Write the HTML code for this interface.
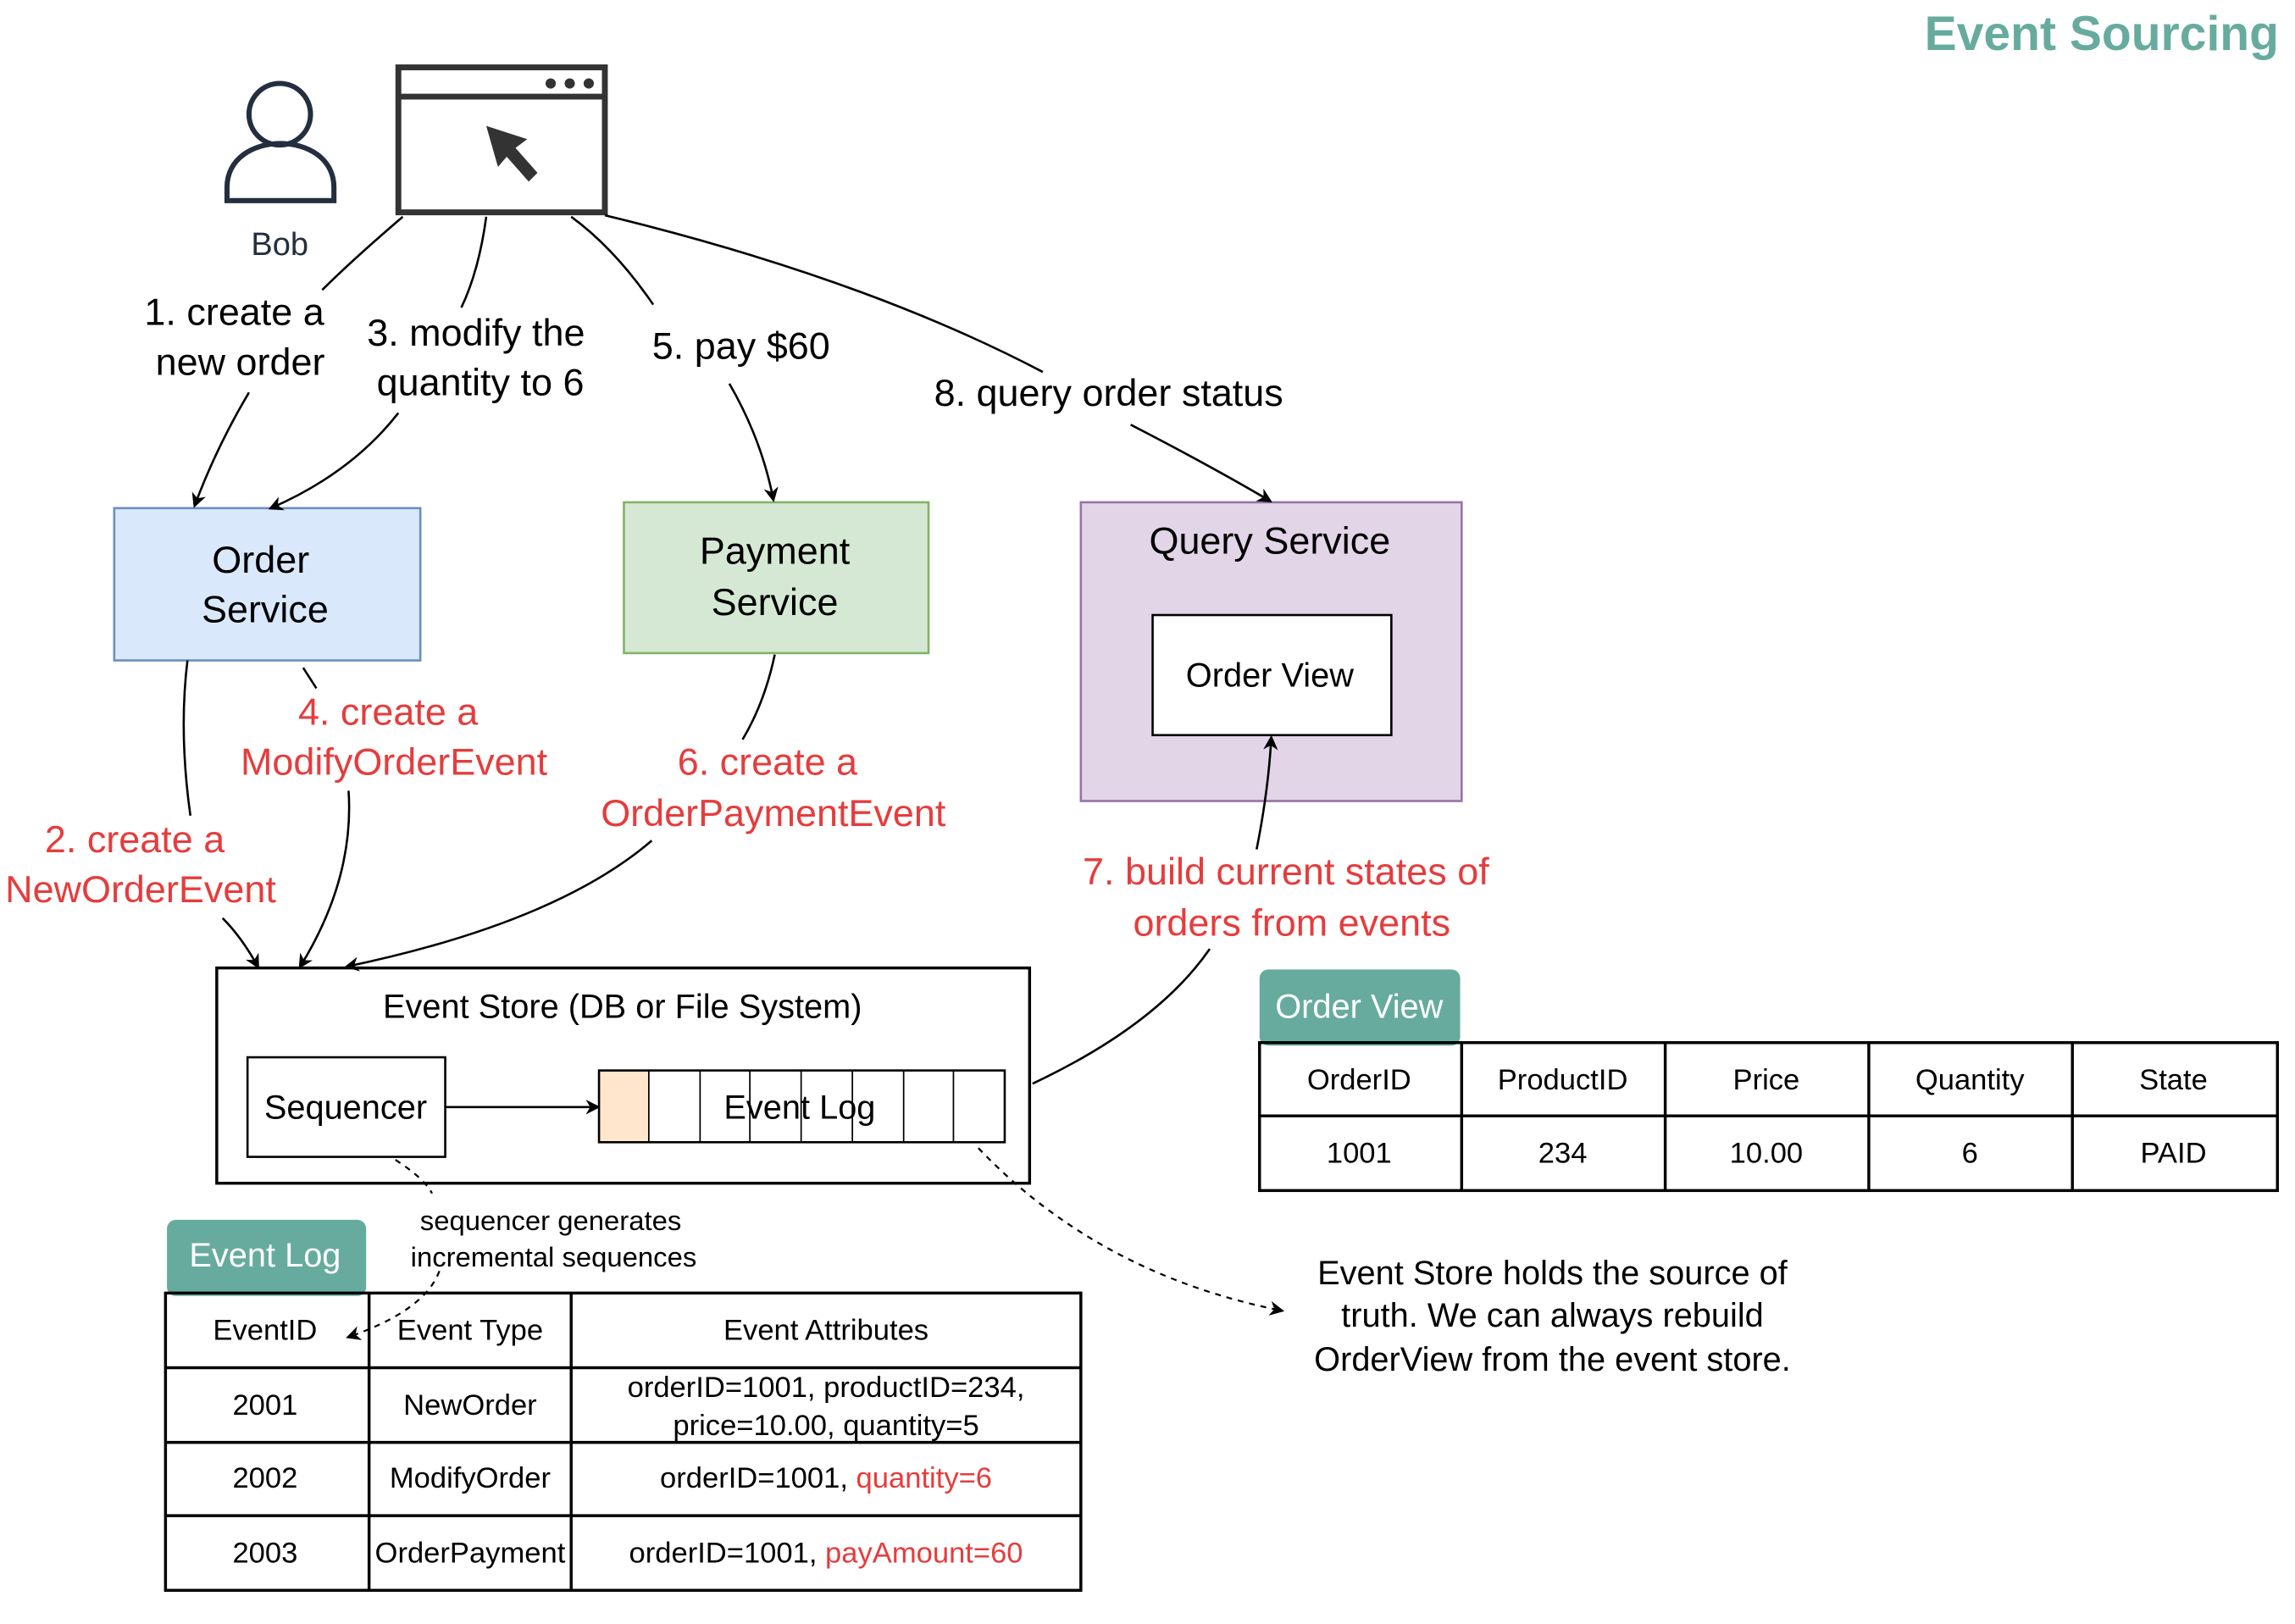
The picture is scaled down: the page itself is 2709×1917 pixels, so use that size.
<!DOCTYPE html>
<html><head><meta charset="utf-8"><style>html,body{margin:0;padding:0;background:#fff;}svg{display:block;}text{font-family:"Liberation Sans",Arial,sans-serif;}</style></head>
<body>
<svg width="2709" height="1917" viewBox="0 0 1567 1109" preserveAspectRatio="none" xmlns="http://www.w3.org/2000/svg">
<defs>
<marker id="ar" markerWidth="10" markerHeight="10" refX="8" refY="5" orient="auto" markerUnits="userSpaceOnUse"><path d="M0,0 L10,5 L0,10 L3,5 z" fill="#000"/></marker>
</defs>
<rect width="1567" height="1109" fill="#fff"/>
<text x="1556" y="34" text-anchor="end" font-size="33" font-weight="bold" fill="#67AB9F">Event Sourcing</text>
<!-- Bob -->
<circle cx="191" cy="78" r="21" fill="none" stroke="#232F3E" stroke-width="3.5"/>
<path d="M155,137 L155,128 C155,88 228,88 228,128 L228,137 Z" fill="none" stroke="#232F3E" stroke-width="3.5"/>
<text x="191" y="174" text-anchor="middle" font-size="22" fill="#232F3E">Bob</text>
<!-- browser -->
<rect x="272" y="46" width="141" height="99" fill="#fff" stroke="#333" stroke-width="4"/>
<line x1="272" y1="66" x2="413" y2="66" stroke="#333" stroke-width="4"/>
<circle cx="376" cy="57" r="3.5" fill="#333"/><circle cx="389" cy="57" r="3.5" fill="#333"/><circle cx="402" cy="57" r="3.5" fill="#333"/>
<path d="M332,86 L360,95 L352,101 L367,118 L361,124 L346,107 L340,114 Z" fill="#333"/>
<!-- services -->
<rect x="78" y="347" width="209" height="104" fill="#dae8fc" stroke="#6c8ebf" stroke-width="1.5"/>
<text x="178" y="391" font-size="26" text-anchor="middle">Order</text><text x="181" y="425" font-size="26" text-anchor="middle">Service</text>
<rect x="426" y="343" width="208" height="103" fill="#d5e8d4" stroke="#82b366" stroke-width="1.5"/>
<text x="529" y="385" font-size="26" text-anchor="middle">Payment</text><text x="529" y="420" font-size="26" text-anchor="middle">Service</text>
<rect x="738" y="343" width="260" height="204" fill="#e1d5e7" stroke="#9673a6" stroke-width="1.5"/>
<text x="867" y="378" font-size="26" text-anchor="middle">Query Service</text>
<rect x="787" y="420" width="163" height="82" fill="#fff" stroke="#000" stroke-width="1.5"/>
<text x="867" y="469" font-size="23" text-anchor="middle">Order View</text>
<!-- edges -->
<g fill="none" stroke="#000" stroke-width="1.5">
<path d="M275,148 Q240,178 220,198"/>
<path d="M170,268 Q148,305 133,345" marker-end="url(#ar)"/>
<path d="M332,148 Q327,185 315,210"/>
<path d="M272,282 Q240,323 185,347" marker-end="url(#ar)"/>
<path d="M390,148 Q420,170 446,208"/>
<path d="M498,262 Q520,300 528,341" marker-end="url(#ar)"/>
<path d="M413,147 Q590,190 712,254"/>
<path d="M772,290 Q830,320 867,342" marker-end="url(#ar)"/>
<path d="M128,451 Q122,500 130,557"/>
<path d="M152,627 Q165,640 176,660" marker-end="url(#ar)"/>
<path d="M207,456 L216,470"/>
<path d="M238,540 Q242,600 205,660" marker-end="url(#ar)"/>
<path d="M529,447 Q522,480 507,505"/>
<path d="M445,574 Q380,630 237,660" marker-end="url(#ar)"/>
<path d="M705,740 Q790,700 826,648"/>
<path d="M858,580 Q866,540 868,504" marker-end="url(#ar)"/>
<path d="M304,756 L408,756" marker-end="url(#ar)"/>
</g>
<g fill="none" stroke="#000" stroke-width="1.3" stroke-dasharray="4,4">
<path d="M270,792 Q290,805 295,815"/>
<path d="M300,868 Q290,895 238,913" marker-end="url(#ar)"/>
<path d="M668,784 Q750,870 875,895" marker-end="url(#ar)"/>
</g>
<!-- edge labels -->
<g font-size="26" text-anchor="middle" fill="#000">
<text x="160" y="222">1. create a</text><text x="164" y="256">new order</text>
<text x="325" y="236">3. modify the</text><text x="328" y="270">quantity to 6</text>
<text x="506" y="245">5. pay $60</text>
<text x="757" y="277">8. query order status</text>
</g>
<g font-size="26" text-anchor="middle" fill="#E63C3C">
<text x="265" y="495">4. create a</text><text x="269" y="529">ModifyOrderEvent</text>
<text x="92" y="582">2. create a</text><text x="96" y="616">NewOrderEvent</text>
<text x="524" y="529">6. create a</text><text x="528" y="564">OrderPaymentEvent</text>
<text x="878" y="604">7. build current states of</text><text x="882" y="639">orders from events</text>
</g>
<!-- event store -->
<rect x="148" y="661" width="555" height="147" fill="none" stroke="#000" stroke-width="2"/>
<text x="425" y="695" font-size="23" text-anchor="middle">Event Store (DB or File System)</text>
<rect x="169" y="722" width="135" height="68" fill="#fff" stroke="#000" stroke-width="1.5"/>
<text x="236" y="764" font-size="23" text-anchor="middle">Sequencer</text>
<rect x="409" y="731" width="34" height="49" fill="#ffe6cc"/>
<rect x="409" y="731" width="277" height="49" fill="none" stroke="#000" stroke-width="1.5"/>
<g stroke="#000" stroke-width="1"><line x1="443" y1="731" x2="443" y2="780"/><line x1="478" y1="731" x2="478" y2="780"/><line x1="512" y1="731" x2="512" y2="780"/><line x1="547" y1="731" x2="547" y2="780"/><line x1="582" y1="731" x2="582" y2="780"/><line x1="617" y1="731" x2="617" y2="780"/><line x1="651" y1="731" x2="651" y2="780"/></g>
<text x="546" y="764" font-size="23" text-anchor="middle">Event Log</text>
<text x="376" y="840" font-size="19" text-anchor="middle">sequencer generates</text>
<text x="378" y="865" font-size="19" text-anchor="middle">incremental sequences</text>
<text x="1060" y="877" font-size="23" text-anchor="middle">Event Store holds the source of</text>
<text x="1060" y="906" font-size="23" text-anchor="middle">truth. We can always rebuild</text>
<text x="1060" y="936" font-size="23" text-anchor="middle">OrderView from the event store.</text>
<!-- order view table -->
<rect x="860" y="662" width="137" height="52" rx="6" fill="#67AB9F"/>
<text x="928" y="695" font-size="23" text-anchor="middle" fill="#fff">Order View</text>
<g fill="none" stroke="#000" stroke-width="2">
<rect x="860" y="712" width="695" height="101"/>
<line x1="860" y1="762" x2="1555" y2="762"/>
<line x1="998" y1="712" x2="998" y2="813"/><line x1="1137" y1="712" x2="1137" y2="813"/><line x1="1276" y1="712" x2="1276" y2="813"/><line x1="1415" y1="712" x2="1415" y2="813"/>
</g>
<g font-size="20" text-anchor="middle">
<text x="928" y="744">OrderID</text><text x="1067" y="744">ProductID</text><text x="1206" y="744">Price</text><text x="1345" y="744">Quantity</text><text x="1484" y="744">State</text>
<text x="928" y="794">1001</text><text x="1067" y="794">234</text><text x="1206" y="794">10.00</text><text x="1345" y="794">6</text><text x="1484" y="794">PAID</text>
</g>
<!-- event log table -->
<rect x="114" y="833" width="136" height="52" rx="6" fill="#67AB9F"/>
<text x="181" y="865" font-size="23" text-anchor="middle" fill="#fff">Event Log</text>
<g fill="none" stroke="#000" stroke-width="2">
<rect x="113" y="883" width="625" height="203"/>
<line x1="113" y1="934" x2="738" y2="934"/><line x1="113" y1="985" x2="738" y2="985"/><line x1="113" y1="1035" x2="738" y2="1035"/>
<line x1="252" y1="883" x2="252" y2="1086"/><line x1="390" y1="883" x2="390" y2="1086"/>
</g>
<g font-size="20" text-anchor="middle">
<text x="181" y="915">EventID</text><text x="321" y="915">Event Type</text><text x="564" y="915">Event Attributes</text>
<text x="181" y="966">2001</text><text x="321" y="966">NewOrder</text>
<text x="564" y="954">orderID=1001, productID=234,</text><text x="564" y="980">price=10.00, quantity=5</text>
<text x="181" y="1016">2002</text><text x="321" y="1016">ModifyOrder</text>
<text x="564" y="1016">orderID=1001, <tspan fill="#E63C3C">quantity=6</tspan></text>
<text x="181" y="1067">2003</text><text x="321" y="1067">OrderPayment</text>
<text x="564" y="1067">orderID=1001, <tspan fill="#E63C3C">payAmount=60</tspan></text>
</g>
</svg>
</body></html>
